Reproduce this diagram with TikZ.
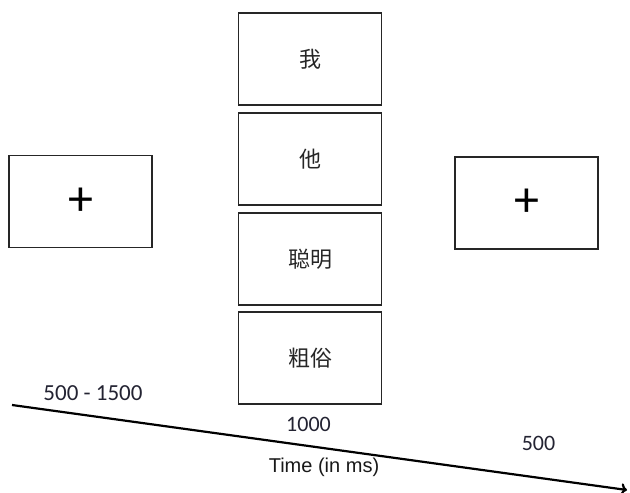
\documentclass[tikz,border=0pt]{standalone}
\usepackage{fontspec}
\setmainfont{Carlito}
\newfontfamily\cjk{Noto Sans CJK SC}
\newfontfamily\arialish{Liberation Sans}
\usetikzlibrary{arrows.meta}
\definecolor{ink}{RGB}{35,35,50}
\begin{document}
\begin{tikzpicture}[x=1pt,y=-1pt,
  scr/.style={draw=black!85,line width=1.8pt,minimum width=143pt,minimum height=92pt,inner sep=0pt},
  word/.style={font=\cjk\fontsize{22}{24}\selectfont,text=black!85},
  fix/.style={font=\fontsize{50}{52}\selectfont},
  lbl/.style={font=\fontsize{22}{24}\selectfont,text=ink,inner sep=0pt}]
\useasboundingbox (0,0) rectangle (630,493);
\node[scr,fix] (left) at (80.5,201.5) {+};
\node[scr,word] (w1) at (310,59) {我};
\node[scr,word] (w2) at (310,159) {他};
\node[scr,word] (w3) at (310,259) {聪明};
\node[scr,word] (w4) at (310,358) {粗俗};
\node[scr,fix] (right) at (526.5,203) {+};
\coordinate (t0) at (12,405);
\coordinate (t1) at (627,490);
\draw[line width=2.2pt,-{To[length=6pt,width=12pt]}] (t0) -- (t1);
\node[lbl,font=\fontsize{23}{25}\selectfont] (l1) at (93,393) {500 - 1500};
\node[lbl] (l2) at (308.5,424) {1000};
\node[lbl] (l3) at (538.5,443) {500};
\node[lbl,font=\arialish\fontsize{20}{22}\selectfont,text=black!90] (l4) at (324,467) {Time (in ms)};
\end{tikzpicture}
\end{document}
